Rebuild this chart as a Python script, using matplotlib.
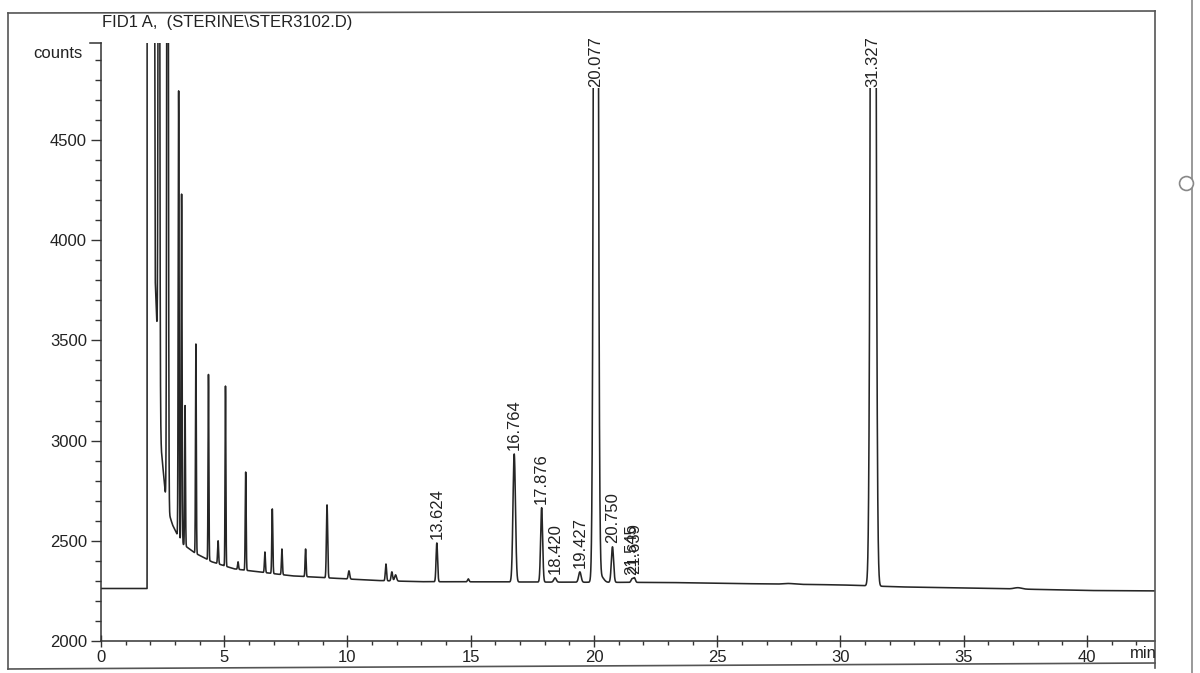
import numpy as np
import matplotlib.pyplot as plt
from matplotlib.lines import Line2D

plt.rcParams['font.family'] = ['Liberation Sans', 'DejaVu Sans']

# baseline (counts), incl. the off-scale solvent plateau
base_t = [0, 1.87, 1.875, 2.08, 2.2, 2.45, 2.65, 2.9, 3.25, 3.8, 4.5, 5.4, 6.4,
          7.75, 9.65, 11.15, 12.9, 16, 20, 23, 25, 30, 32.4, 37, 40, 42.8]
base_c = [2262, 2262, 12000, 12000, 3800, 2950, 2680, 2580, 2490, 2440, 2395,
          2360, 2345, 2325, 2312, 2302, 2296, 2295, 2293, 2292, 2288, 2280,
          2270, 2260, 2252, 2250]

# peaks: retention time (min), apex (counts), sigma (min)
peak_rt = [2.35, 2.70, 3.15, 3.27, 3.41, 3.85, 4.36, 4.75, 5.05, 5.56, 5.87,
           6.65, 6.95, 7.34, 8.30, 9.17, 10.06, 11.56, 11.80, 11.95, 13.624,
           14.9, 16.764, 17.876, 18.420, 19.427, 20.077, 20.30, 20.750,
           21.545, 21.639, 27.9, 31.327, 37.2]
peak_top = [9000, 9000, 4745, 4230, 3175, 3482, 3330, 2500, 3272, 2395, 2843,
            2444, 2659, 2459, 2459, 2679, 2350, 2384, 2345, 2330, 2489,
            2310, 2933, 2665, 2315, 2345, 12000, 2320, 2470,
            2310, 2315, 2287, 12000, 2266]
peak_sig = [0.025, 0.025, 0.018, 0.018, 0.016, 0.016, 0.016, 0.02, 0.016, 0.02,
            0.018, 0.02, 0.02, 0.02, 0.02, 0.025, 0.03, 0.025, 0.03, 0.04,
            0.03, 0.03, 0.05, 0.04, 0.05, 0.05, 0.065, 0.1, 0.045,
            0.04, 0.04, 0.2, 0.075, 0.15]

# integrator labels
label_rt = [13.624, 16.764, 17.876, 18.420, 19.427, 20.077, 20.750, 21.545,
            21.639, 31.327]
label_txt = ['13.624', '16.764', '17.876', '18.420', '19.427', '20.077',
             '20.750', '21.545', '21.639', '31.327']

x_max = 42.76
y_min, y_max = 2000, 4984

t = np.linspace(0, x_max, 30000)
base = np.interp(t, base_t, base_c)
sig = base.copy()
for rt, top, s in zip(peak_rt, peak_top, peak_sig):
    amp = top - np.interp(rt, base_t, base_c)
    sig += amp * np.exp(-0.5 * ((t - rt) / s) ** 2)

fig = plt.figure(figsize=(12, 6.73), dpi=100)
ax = fig.add_axes([101 / 1200, 1 - 641 / 673, 1054 / 1200, 598 / 673])
ax.plot(t, sig, color='#262626', lw=1.15)
ax.set_xlim(0, x_max)
ax.set_ylim(y_min, y_max)

for s in ['top', 'right']:
    ax.spines[s].set_visible(False)
for s in ['left', 'bottom']:
    ax.spines[s].set_color('#333333')
    ax.spines[s].set_linewidth(1.1)

ax.set_xticks(np.arange(0, 41, 5))
ax.set_xticks(np.arange(0, 43, 1), minor=True)
ax.set_yticks(np.arange(2000, 4501, 500))
ax.set_yticks(np.arange(2000, 4985, 100), minor=True)
ax.tick_params(axis='x', which='major', direction='inout', length=9, width=1,
               labelsize=12, pad=2, colors='#333333', labelcolor='#222222')
ax.tick_params(axis='x', which='minor', direction='out', length=3, width=1,
               colors='#333333')
ax.tick_params(axis='y', which='major', direction='out', length=7, width=1,
               labelsize=12, pad=3, colors='#333333', labelcolor='#222222')
ax.tick_params(axis='y', which='minor', direction='out', length=4, width=1,
               colors='#333333')

# hook at the top of the y axis
ax.add_line(Line2D([-0.010, 0], [1, 1], transform=ax.transAxes, color='#333333',
                   lw=1.1, clip_on=False))

for rt, txt in zip(label_rt, label_txt):
    top = peak_top[peak_rt.index(rt)]
    if top > y_max:
        # printed over the off-scale peak, hiding its tip
        ax.text(rt, 4765, txt, rotation=90, ha='center', va='bottom',
                fontsize=12, color='#222222', clip_on=False, zorder=5,
                bbox=dict(boxstyle='square,pad=0.05', fc='white', ec='none'))
    else:
        ax.annotate(txt, (rt, top), xytext=(0, 3), textcoords='offset points',
                    rotation=90, ha='center', va='bottom', fontsize=12,
                    color='#222222')

fig.text(102 / 1200, 1 - 22 / 673, 'FID1 A,  (STERINE\\STER3102.D)', fontsize=12,
         ha='left', va='center', color='#222222')
fig.text(82 / 1200, 1 - 53 / 673, 'counts', fontsize=12, ha='right',
         va='center', color='#222222')
fig.text(1157 / 1200, 1 - 653 / 673, 'min', fontsize=12, ha='right',
         va='center', color='#222222')

# page frame from the printout
fc = '#555555'
fig.add_artist(Line2D([8 / 1200, 8 / 1200], [1 - 13 / 673, 1 - 669 / 673],
                      transform=fig.transFigure, color=fc, lw=1.2))
fig.add_artist(Line2D([8 / 1200, 1155 / 1200], [1 - 13 / 673, 1 - 11 / 673],
                      transform=fig.transFigure, color=fc, lw=1.2))
fig.add_artist(Line2D([1155 / 1200, 1155 / 1200], [1 - 11 / 673, 1 - 668 / 673],
                      transform=fig.transFigure, color=fc, lw=1.2))
fig.add_artist(Line2D([8 / 1200, 1155 / 1200], [1 - 669 / 673, 1 - 663 / 673],
                      transform=fig.transFigure, color=fc, lw=1.2))
fig.add_artist(Line2D([1192 / 1200, 1192 / 1200], [0, 1],
                      transform=fig.transFigure, color='#888888', lw=1.2))
fig.add_artist(Line2D([1186 / 1200], [1 - 183 / 673], transform=fig.transFigure,
                      marker='o', ms=10, mfc='white', mec='#888888', mew=1.2))

fig.savefig('out.png', dpi=100, facecolor='white')
